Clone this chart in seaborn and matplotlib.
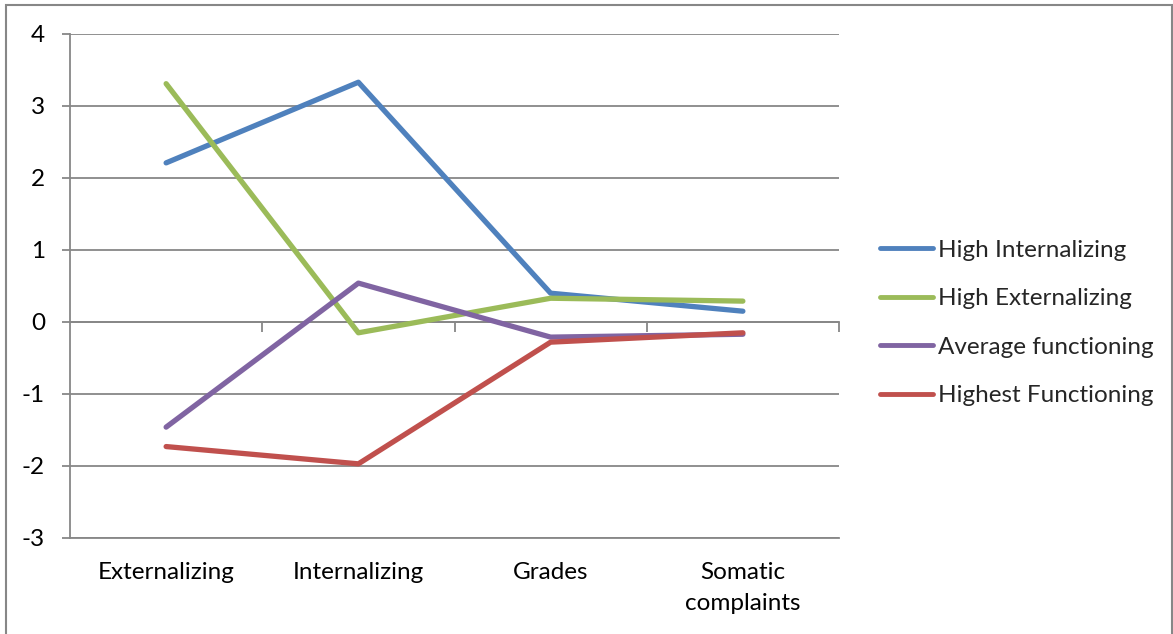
import matplotlib
matplotlib.use("Agg")
import matplotlib.pyplot as plt
from matplotlib.patches import Rectangle
import seaborn as sns
import pandas as pd

categories = ["Externalizing", "Internalizing", "Grades", "Somatic\ncomplaints"]
series_names = ["High Internalizing", "High Externalizing",
                "Average functioning", "Highest Functioning"]
high_internalizing = [2.21, 3.33, 0.40, 0.15]
high_externalizing = [3.31, -0.15, 0.33, 0.29]
average_functioning = [-1.46, 0.54, -0.21, -0.17]
highest_functioning = [-1.73, -1.97, -0.28, -0.15]
y_ticks = [-3, -2, -1, 0, 1, 2, 3, 4]

colors = ["#4F81BD", "#9BBB59", "#8064A2", "#C0504D"]
grid_gray = "#878787"
font_size = 17.5

sns.set_theme(style="white")
plt.rcParams["font.family"] = ["Lato", "DejaVu Sans"]

rows = []
for name, vals in zip(series_names, [high_internalizing, high_externalizing,
                                     average_functioning, highest_functioning]):
    for cat, v in zip(categories, vals):
        rows.append({"category": cat, "score": v, "group": name})
df = pd.DataFrame(rows)

fig = plt.figure(figsize=(11.73, 6.34), dpi=100)
fig.patch.set_facecolor("white")
ax = fig.add_axes([70 / 1173, 1 - 538 / 634, (839 - 70) / 1173, (538 - 34) / 634])

sns.lineplot(data=df, x="category", y="score", hue="group",
             hue_order=series_names, palette=colors, sort=False,
             linewidth=3.8, solid_capstyle="round", ax=ax, legend=True)

ax.set_xlim(-0.5, 3.5)
ax.set_ylim(-3, 4)
ax.set_yticks(y_ticks)
ax.set_yticklabels([str(t) for t in y_ticks])
ax.yaxis.grid(True, color=grid_gray, linewidth=1.3)
ax.set_axisbelow(True)
ax.set_xlabel("")
ax.set_ylabel("")

for side in ["top", "right"]:
    ax.spines[side].set_visible(False)
for side in ["left", "bottom"]:
    ax.spines[side].set_color(grid_gray)
    ax.spines[side].set_linewidth(1.3)

ax.tick_params(axis="y", direction="out", length=6, width=1.3, color=grid_gray,
               left=True, pad=12, labelsize=font_size, labelcolor="black")
ax.set_xticks(range(len(categories)))
ax.set_xticklabels(categories, fontsize=font_size, color="black",
                   linespacing=1.6, va="top")
ax.tick_params(axis="x", length=0, pad=17)

# horizontal category axis crossing at zero, with boundary tick marks
zero_frac = (0 - (-3)) / 7
sec = ax.secondary_xaxis(zero_frac)
sec.set_xticks([0.5, 1.5, 2.5, 3.5])
sec.tick_params(axis="x", direction="out", length=7, width=1.3, color=grid_gray,
                labelbottom=False, labeltop=False, bottom=True, top=False)
sec.spines["bottom"].set_color(grid_gray)
sec.spines["bottom"].set_linewidth(1.3)
for side in ["top", "left", "right"]:
    if side in sec.spines:
        sec.spines[side].set_visible(False)

handles, labels = ax.get_legend_handles_labels()
ax.get_legend().remove()
for h in handles:
    h.set_linewidth(3.5)
    h.set_solid_capstyle("round")
fig.legend(handles, labels, loc="center left",
           bbox_to_anchor=(880 / 1173, 1 - 323 / 634), frameon=False,
           fontsize=font_size, handlelength=2.2, handletextpad=0.2,
           labelspacing=1.13, borderpad=0, borderaxespad=0)

fig.add_artist(Rectangle((6 / 1173, -0.01), (1172 - 6) / 1173, 1 - 5 / 634 + 0.01,
                         transform=fig.transFigure, fill=False,
                         edgecolor=grid_gray, linewidth=1.5))

fig.savefig("out.png", dpi=100, facecolor="white")
